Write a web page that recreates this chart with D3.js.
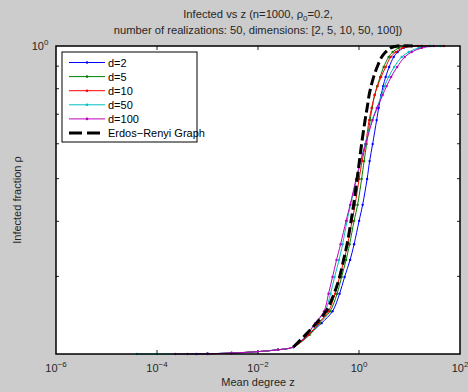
<!DOCTYPE html>
<html lang="en">
<head>
<meta charset="UTF-8">
<title>Infected vs z</title>
<script src="https://d3js.org/d3.v7.min.js"></script>
<style>
    body { margin: 0; background: #cccccc; }
    svg { display: block; font-family: "Liberation Sans", Arial, sans-serif; }
</style>
</head>
<body>
<svg id="chart"></svg>
<script>
    const width = 468, height = 392;

    // series: mean degree z and infected fraction rho
    const dims = ["d=2", "d=5", "d=10", "d=50", "d=100"];
    const colors = ["#0000ff", "#008000", "#ff0000", "#00bfbf", "#bf00bf"];

    const rho_d2 = [0.2, 0.2003, 0.201, 0.2025, 0.2045, 0.2075, 0.221, 0.235, 0.250, 0.274, 0.299, 0.327, 0.355, 0.401, 0.436, 0.499, 0.548, 0.599, 0.679, 0.723, 0.774, 0.811, 0.851, 0.896, 0.944, 0.969, 0.990, 1.0, 1.0];
    const z_d2 = [6e-4, 1e-3, 3e-3, 0.01, 0.025, 0.0504, 0.100, 0.181, 0.299, 0.412, 0.518, 0.666, 0.800, 1.005, 1.179, 1.448, 1.623, 1.862, 2.235, 2.448, 2.745, 3.008, 3.372, 3.957, 4.859, 5.833, 7.672, 11.06, 17.47];

    const rho_d5 = [0.2, 0.2003, 0.201, 0.2025, 0.2045, 0.2075, 0.221, 0.235, 0.250, 0.274, 0.299, 0.327, 0.355, 0.401, 0.436, 0.499, 0.548, 0.599, 0.679, 0.723, 0.774, 0.811, 0.851, 0.896, 0.944, 0.969, 0.990, 1.0, 1.0];
    const z_d5 = [4e-4, 1e-3, 3e-3, 0.01, 0.025, 0.0504, 0.105, 0.165, 0.267, 0.368, 0.452, 0.555, 0.651, 0.800, 0.938, 1.126, 1.262, 1.415, 1.661, 1.819, 2.040, 2.287, 2.623, 3.077, 3.867, 4.642, 6.106, 9.21, 25];

    const rho_d10 = [0.2, 0.201, 0.2025, 0.2045, 0.2075, 0.221, 0.235, 0.250, 0.274, 0.299, 0.327, 0.355, 0.401, 0.436, 0.499, 0.548, 0.599, 0.679, 0.723, 0.774, 0.811, 0.851, 0.896, 0.944, 0.969, 0.990, 1.0, 1.0];
    const z_d10 = [1e-3, 3e-3, 0.01, 0.025, 0.0504, 0.100, 0.158, 0.249, 0.336, 0.412, 0.506, 0.594, 0.730, 0.837, 1.005, 1.152, 1.352, 1.586, 1.778, 2.040, 2.339, 2.745, 3.372, 4.236, 5.323, 7.330, 14.55, 47.7];

    const rho_d50 = [0.2, 0.2, 0.2003, 0.201, 0.2025, 0.2045, 0.2075, 0.221, 0.235, 0.250, 0.274, 0.299, 0.327, 0.355, 0.401, 0.436, 0.499, 0.548, 0.599, 0.679, 0.723, 0.774, 0.811, 0.851, 0.896, 0.944, 0.969, 0.990, 1.0, 1.0];
    const z_d50 = [4e-5, 1e-4, 1e-3, 3e-3, 0.01, 0.025, 0.0504, 0.0913, 0.138, 0.213, 0.273, 0.328, 0.403, 0.473, 0.581, 0.681, 0.896, 1.076, 1.321, 1.819, 2.235, 2.809, 3.221, 3.867, 4.971, 7.002, 9.641, 15.23, 26.3, 41.6];

    const rho_d100 = [0.2, 0.2003, 0.201, 0.2025, 0.2045, 0.2075, 0.221, 0.235, 0.250, 0.274, 0.299, 0.327, 0.355, 0.401, 0.436, 0.499, 0.548, 0.599, 0.679, 0.723, 0.774, 0.811, 0.851, 0.896, 0.944, 0.969, 0.990, 1.0];
    const z_d100 = [2.3e-4, 1e-3, 3e-3, 0.01, 0.025, 0.0504, 0.0934, 0.135, 0.203, 0.249, 0.299, 0.359, 0.432, 0.555, 0.666, 0.876, 1.076, 1.352, 1.862, 2.287, 2.940, 3.530, 4.334, 5.702, 8.033, 11.06, 17.47, 30.2];

    const rho_er = [0.2075, 0.221, 0.235, 0.250, 0.274, 0.299, 0.327, 0.355, 0.401, 0.436, 0.499, 0.548, 0.599, 0.679, 0.723, 0.774, 0.811, 0.851, 0.896, 0.944, 0.969, 0.990, 1.0, 1.0];
    const z_er = [0.0504, 0.0872, 0.144, 0.2225, 0.321, 0.412, 0.495, 0.581, 0.697, 0.782, 0.917, 1.018, 1.126, 1.321, 1.448, 1.586, 1.739, 1.949, 2.287, 2.809, 3.372, 4.236, 5.833, 11.58];

    const xTicks = [1e-6, 1e-4, 1e-2, 1e0, 1e2];
    const xTickExp = ["\u22126", "\u22124", "\u22122", "0", "2"];
    const yMinorTicks = [0.3, 0.4, 0.5, 0.6, 0.7, 0.8, 0.9];

    const zs = [z_d2, z_d5, z_d10, z_d50, z_d100];
    const rhos = [rho_d2, rho_d5, rho_d10, rho_d50, rho_d100];

    const pLeft = 56, pRight = 460, pTop = 46, pBottom = 354;

    const x = d3.scaleLog().domain([1e-6, 1e2]).range([pLeft, pRight]);
    const y = d3.scaleLog().domain([0.2, 1]).range([pBottom, pTop]);

    const svg = d3.select("#chart").attr("width", width).attr("height", height);

    svg.append("rect").attr("width", width).attr("height", height).attr("fill", "#cccccc");
    svg.append("rect")
        .attr("x", pLeft).attr("y", pTop)
        .attr("width", pRight - pLeft).attr("height", pBottom - pTop)
        .attr("fill", "#ffffff");

    // ticks (inward, both sides)
    const tickG = svg.append("g").attr("stroke", "#262626").attr("stroke-width", 1);
    xTicks.slice(1, -1).forEach(t => {
        tickG.append("line").attr("x1", x(t)).attr("x2", x(t)).attr("y1", pBottom).attr("y2", pBottom - 4);
        tickG.append("line").attr("x1", x(t)).attr("x2", x(t)).attr("y1", pTop).attr("y2", pTop + 4);
    });
    yMinorTicks.forEach(t => {
        tickG.append("line").attr("x1", pLeft).attr("x2", pLeft + 3).attr("y1", y(t)).attr("y2", y(t));
        tickG.append("line").attr("x1", pRight).attr("x2", pRight - 3).attr("y1", y(t)).attr("y2", y(t));
    });

    // curves
    const line = d3.line()
        .x(d => x(d[0]))
        .y(d => y(d[1]))
        .curve(d3.curveCatmullRom.alpha(0.5));

    const plot = svg.append("g");
    dims.forEach((name, i) => {
        const pts = zs[i].map((v, j) => [v, rhos[i][j]]);
        plot.append("path")
            .attr("d", line(pts))
            .attr("fill", "none")
            .attr("stroke", colors[i])
            .attr("stroke-width", 1);
        plot.selectAll(null)
            .data(pts)
            .enter().append("circle")
            .attr("cx", d => x(d[0]))
            .attr("cy", d => y(d[1]))
            .attr("r", 1.2)
            .attr("fill", colors[i]);
    });

    const erPts = z_er.map((v, j) => [v, rho_er[j]]);
    plot.append("path")
        .attr("d", line(erPts))
        .attr("fill", "none")
        .attr("stroke", "#000000")
        .attr("stroke-width", 3)
        .attr("stroke-dasharray", "10,4");

    // axes box
    svg.append("rect")
        .attr("x", pLeft).attr("y", pTop)
        .attr("width", pRight - pLeft).attr("height", pBottom - pTop)
        .attr("fill", "none")
        .attr("stroke", "#000000")
        .attr("stroke-width", 1.5);

    // x tick labels
    xTicks.forEach((t, i) => {
        const txt = svg.append("text")
            .attr("x", x(t))
            .attr("y", 372)
            .attr("text-anchor", "middle")
            .attr("font-size", 11)
            .attr("fill", "#262626");
        txt.append("tspan").text("10");
        txt.append("tspan").attr("dy", -5).attr("font-size", 8).text(xTickExp[i]);
    });

    // y tick label 10^0
    const yl = svg.append("text")
        .attr("x", 40)
        .attr("y", 50)
        .attr("text-anchor", "middle")
        .attr("font-size", 11)
        .attr("fill", "#262626");
    yl.append("tspan").text("10");
    yl.append("tspan").attr("dy", -5).attr("font-size", 8).text("0");

    // axis labels
    svg.append("text")
        .attr("x", (pLeft + pRight) / 2)
        .attr("y", 386)
        .attr("text-anchor", "middle")
        .attr("font-size", 11)
        .attr("fill", "#262626")
        .text("Mean degree z");

    svg.append("text")
        .attr("transform", `translate(21,${(pTop + pBottom) / 2}) rotate(-90)`)
        .attr("text-anchor", "middle")
        .attr("font-size", 11)
        .attr("fill", "#262626")
        .text("Infected fraction \u03c1");

    // title
    const t1 = svg.append("text")
        .attr("x", (pLeft + pRight) / 2)
        .attr("y", 18)
        .attr("text-anchor", "middle")
        .attr("font-size", 11.2)
        .attr("fill", "#262626");
    t1.append("tspan").text("Infected vs z (n=1000, \u03c1");
    t1.append("tspan").attr("dy", 3).attr("font-size", 8).text("0");
    t1.append("tspan").attr("dy", -3).text("=0.2,");

    svg.append("text")
        .attr("x", (pLeft + pRight) / 2)
        .attr("y", 34)
        .attr("text-anchor", "middle")
        .attr("font-size", 11.2)
        .attr("fill", "#262626")
        .text("number of realizations: 50, dimensions: [2, 5, 10, 50, 100])");

    // legend
    const lg = svg.append("g");
    lg.append("rect")
        .attr("x", 62).attr("y", 52)
        .attr("width", 135).attr("height", 90)
        .attr("fill", "#ffffff")
        .attr("stroke", "#000000")
        .attr("stroke-width", 1);

    const legendNames = dims.concat(["Erdos\u2212Renyi Graph"]);
    legendNames.forEach((name, i) => {
        const ly = 62.5 + i * 14.1;
        const isEr = i === dims.length;
        lg.append("line")
            .attr("x1", 69).attr("x2", 105)
            .attr("y1", ly).attr("y2", ly)
            .attr("stroke", isEr ? "#000000" : colors[i])
            .attr("stroke-width", isEr ? 3 : 1)
            .attr("stroke-dasharray", isEr ? "13,5" : null);
        if (!isEr) {
            lg.append("circle").attr("cx", 87).attr("cy", ly).attr("r", 1.3).attr("fill", colors[i]);
        }
        lg.append("text")
            .attr("x", 108)
            .attr("y", ly + 4)
            .attr("font-size", 11)
            .attr("fill", "#000000")
            .text(name);
    });
</script>
</body>
</html>
